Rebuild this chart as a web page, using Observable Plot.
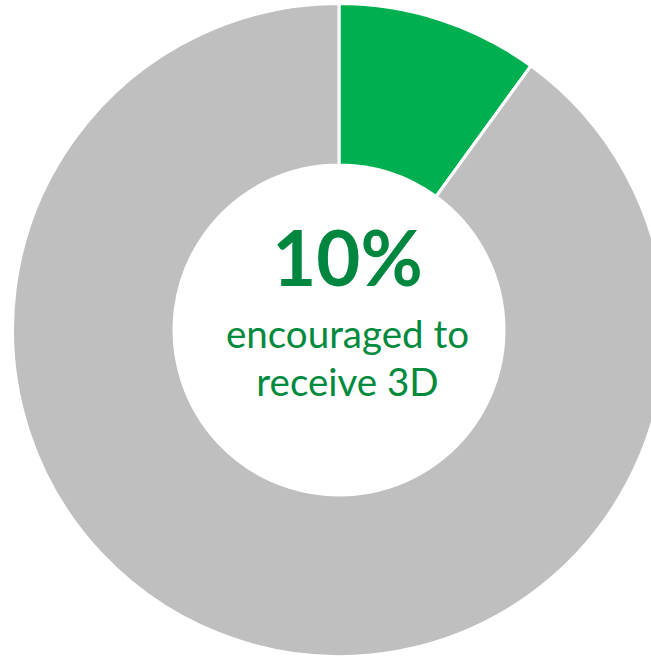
<!DOCTYPE html>
<html>
<head>
<meta charset="utf-8">
<script src="https://cdn.jsdelivr.net/npm/d3@7"></script>
<script src="https://cdn.jsdelivr.net/npm/@observablehq/plot@0.6"></script>
<style>
  html, body { margin: 0; padding: 0; background: #fff; }
  svg { display: block; }
</style>
</head>
<body>
<div id="chart"></div>
<script>
// Data
const categories = ["Encouraged to receive 3D", "Other"];
const shares = [10, 90];
const sliceColors = ["#00B050", "#BFBFBF"];
const bigLabel = ["10%"];
const subLabel = ["encouraged to", "receive 3D"];

const W = 651, H = 656;
const cx = 339, cy = 330, R = 326.5;
const innerRatio = 165 / R;

const data = categories.map((c, i) => ({category: c, value: shares[i], color: sliceColors[i]}));
const pie = d3.pie().value(d => d.value).sort(null);
const arcs = pie(data);

function donutMark(index, scales, values, dimensions) {
  const x0 = scales.x(0), y0 = scales.y(0);
  const r = scales.x(1) - scales.x(0);
  const arc = d3.arc().outerRadius(r).innerRadius(r * innerRatio);
  const g = d3.create("svg:g").attr("transform", `translate(${x0},${y0})`);
  g.selectAll("path").data(arcs).join("path")
    .attr("d", arc)
    .attr("fill", d => d.data.color)
    .attr("stroke", "#fff")
    .attr("stroke-width", 3)
    .attr("stroke-linejoin", "miter");
  return g.node();
}

const textX = 8 / R; // slight right offset of the centered text
const labels = [
  {x: textX, y: (cy - 285) / R, text: bigLabel[0], size: 76, weight: "bold", fill: "#00873F"},
  {x: textX, y: (cy - 347) / R, text: subLabel[0], size: 38.5, weight: "normal", fill: "#008A3E"},
  {x: textX, y: (cy - 395) / R, text: subLabel[1], size: 38.5, weight: "normal", fill: "#008A3E"}
];

const plot = Plot.plot({
  width: W,
  height: H,
  margin: 0,
  x: {domain: [-cx / R, (W - cx) / R], range: [0, W], axis: null},
  y: {domain: [cy / R, -(H - cy) / R], range: [0, H], axis: null},
  style: {fontFamily: "Lato, 'Open Sans', sans-serif", background: "#fff"},
  marks: [
    donutMark,
    ...labels.map(l => Plot.text([l], {
      x: "x", y: "y", text: "text",
      fontSize: l.size, fontWeight: l.weight, fill: l.fill,
      textAnchor: "middle", lineAnchor: "bottom"
    }))
  ]
});
document.getElementById("chart").appendChild(plot);
</script>
</body>
</html>
